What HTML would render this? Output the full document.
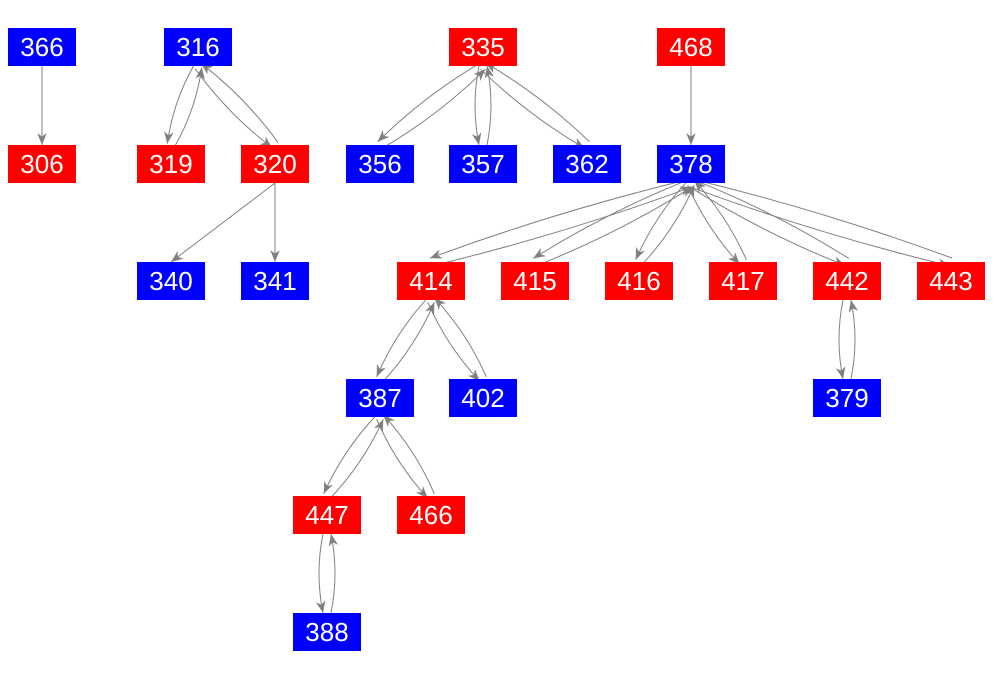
<!DOCTYPE html>
<html><head><meta charset="utf-8"><style>
html,body{margin:0;padding:0;background:#fff;width:994px;height:675px;overflow:hidden}
svg{display:block}
text{font-family:"Liberation Sans",Arial,sans-serif;font-size:26px;fill:#fff}
</style></head><body>
<svg id="s" width="994" height="675" viewBox="0 0 994 675">
<defs><marker id="a" viewBox="0 0 10 10" refX="10" refY="5" markerWidth="12" markerHeight="12" markerUnits="userSpaceOnUse" orient="auto"><path d="M0,1 L10,5 L0,9 L3,5 z" fill="#808080"/></marker></defs>
<g id="e" fill="none" stroke="#808080" stroke-width="1"></g>
<g id="n"></g>
</svg>
<script>
var N={366:[42,47,'b'],306:[42,164,'r'],316:[198,47,'b'],319:[171,164,'r'],320:[275,164,'r'],340:[171,281,'b'],341:[275,281,'b'],
335:[483,47,'r'],356:[380,164,'b'],357:[483,164,'b'],362:[587,164,'b'],468:[691,47,'r'],378:[691,164,'b'],
414:[431,281,'r'],415:[535,281,'r'],416:[639,281,'r'],417:[743,281,'r'],442:[847,281,'r'],443:[951,281,'r'],
387:[380,398,'b'],402:[483,398,'b'],379:[847,398,'b'],447:[327,515,'r'],466:[431,515,'r'],388:[327,632,'b']};
var single=[[366,306],[468,378],[320,340],[320,341]];
var pairs=[[316,319],[316,320],[335,356],[335,357],[335,362],[378,414],[378,415],[378,416],[378,417],[378,442],[378,443],[414,387],[414,402],[442,379],[387,447],[387,466],[447,388]];
var ns="http://www.w3.org/2000/svg",E=document.getElementById('e'),G=document.getElementById('n');
function path(d){var p=document.createElementNS(ns,'path');p.setAttribute('d',d);p.setAttribute('marker-end','url(#a)');E.appendChild(p);}
function edge(a,b,off){var A=N[a],B=N[b];var down=B[1]>A[1];
var x1=A[0],y1=A[1]+(down?19:-19),x2=B[0],y2=B[1]+(down?-19:19);
var dx=x2-x1,dy=y2-y1,L=Math.hypot(dx,dy);
var px=-dy/L,py=dx/L;
x1+=px*off*0.5;y1+=py*off*0.5;x2+=px*off*0.5;y2+=py*off*0.5;
var cx=(x1+x2)/2+px*off,cy=(y1+y2)/2+py*off;
path('M'+x1+','+y1+' Q'+cx+','+cy+' '+x2+','+y2);}
single.forEach(function(s){edge(s[0],s[1],0)});
pairs.forEach(function(p){edge(p[0],p[1],8);edge(p[1],p[0],8)});
for(var k in N){var v=N[k];var r=document.createElementNS(ns,'rect');r.setAttribute('x',v[0]-34);r.setAttribute('y',v[1]-19);r.setAttribute('width',68);r.setAttribute('height',38);r.setAttribute('fill',v[2]=='b'?'#0000ff':'#ff0000');G.appendChild(r);
var t=document.createElementNS(ns,'text');t.setAttribute('x',v[0]);t.setAttribute('y',v[1]+9);t.setAttribute('text-anchor','middle');t.textContent=k;G.appendChild(t);}
</script>
</body></html>
